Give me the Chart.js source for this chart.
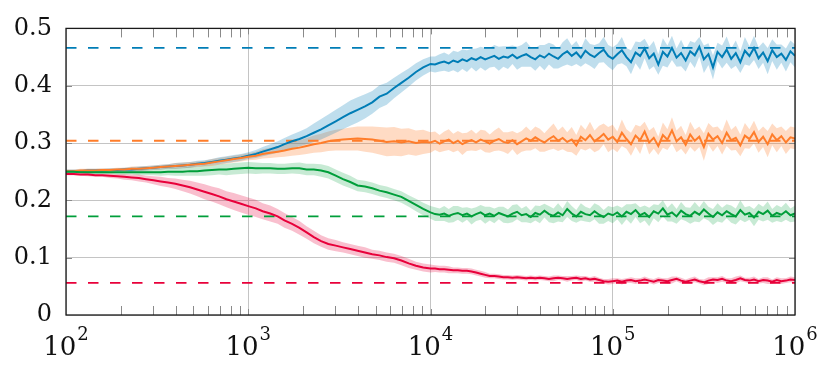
<!DOCTYPE html>
<html>
<head>
<meta charset="utf-8">
<script src="https://cdn.jsdelivr.net/npm/chart.js@4/dist/chart.umd.min.js"></script>
<style>
  html, body { margin: 0; padding: 0; background: #fff; }
  #wrap { width: 831px; height: 366px; }
</style>
</head>
<body>
<div id="wrap"><canvas id="myChart" width="831" height="366"></canvas></div>
<script>
// sample positions (iterations), log spaced
var xs = [
  100,110,120,132,145,158,174,191,209,229,251,275,302,331,363,398,437,479,525,575,631,692,759,832,912,
  1000,1100,1200,1320,1450,1580,1740,1910,2090,2290,2510,2750,3020,3310,3630,3980,4370,4790,5250,5750,6310,6920,7590,8320,9120,
  10000,10590,11220,11890,12590,13340,14130,14960,15850,16790,17780,18840,19950,21130,22390,23710,25120,26610,28180,29850,
  31620,33500,35480,37580,39810,42170,44670,47320,50120,53090,56230,59570,63100,66830,70790,74990,79430,84140,89130,94410,
  100000,105900,112200,118900,125900,133400,141300,149600,158500,167900,177800,188400,199500,211300,223900,237100,251200,266100,281800,298500,
  316200,335000,354800,375800,398100,421700,446700,473200,501200,530900,562300,595700,631000,668300,707900,749900,794300,841400,891300,944100,
  1000000
];

var blueMean = [
  0.251,0.251,0.251,0.252,0.252,0.252,0.253,0.253,0.254,0.254,0.255,0.256,0.257,0.258,0.259,0.260,0.261,0.262,0.264,0.265,0.267,0.269,0.271,0.273,0.275,
  0.278,0.281,0.285,0.289,0.293,0.298,0.303,0.307,0.312,0.318,0.324,0.331,0.338,0.345,0.352,0.358,0.364,0.371,0.381,0.386,0.396,0.405,0.414,0.424,0.432,
  0.438,0.437,0.440,0.442,0.439,0.444,0.441,0.446,0.443,0.448,0.445,0.450,0.446,0.449,0.452,0.447,0.451,0.449,0.454,0.448,
  0.452,0.455,0.450,0.446,0.453,0.449,0.456,0.451,0.447,0.455,0.460,0.452,0.458,0.449,0.461,0.454,0.450,0.457,0.463,0.452,
  0.447,0.455,0.462,0.450,0.441,0.458,0.452,0.465,0.448,0.456,0.437,0.459,0.451,0.466,0.449,0.457,0.444,0.460,0.453,0.468,
  0.446,0.455,0.432,0.459,0.450,0.463,0.447,0.457,0.441,0.461,0.452,0.466,0.448,0.458,0.443,0.462,0.450,0.456,0.445,0.460,
  0.452
];
var blueBand = [
  0.003,0.003,0.003,0.003,0.003,0.003,0.003,0.003,0.003,0.004,0.004,0.004,0.004,0.004,0.004,0.005,0.005,0.005,0.005,0.005,0.005,0.006,0.006,0.006,0.006,
  0.006,0.007,0.008,0.009,0.010,0.011,0.012,0.013,0.014,0.016,0.018,0.019,0.020,0.021,0.022,0.022,0.021,0.020,0.020,0.019,0.018,0.017,0.016,0.015,0.014,
  0.013,0.014,0.015,0.016,0.015,0.017,0.018,0.017,0.019,0.016,0.020,0.018,0.020,0.017,0.019,0.021,0.018,0.020,0.016,0.020,
  0.019,0.022,0.017,0.020,0.018,0.022,0.019,0.021,0.017,0.021,0.023,0.018,0.020,0.016,0.022,0.019,0.021,0.017,0.022,0.019,
  0.020,0.018,0.023,0.016,0.021,0.019,0.024,0.017,0.020,0.022,0.018,0.024,0.019,0.021,0.016,0.023,0.019,0.018,0.022,0.017,
  0.024,0.019,0.021,0.016,0.020,0.023,0.018,0.022,0.019,0.024,0.017,0.021,0.019,0.018,0.023,0.019,0.022,0.016,0.020,0.019,
  0.020
];

var orangeMean = [
  0.251,0.251,0.252,0.252,0.252,0.253,0.253,0.254,0.254,0.255,0.255,0.256,0.257,0.258,0.259,0.260,0.261,0.262,0.263,0.264,0.266,0.268,0.270,0.272,0.274,
  0.276,0.278,0.281,0.283,0.285,0.287,0.290,0.292,0.295,0.298,0.300,0.303,0.305,0.306,0.307,0.308,0.307,0.306,0.304,0.302,0.303,0.301,0.303,0.300,0.302,
  0.301,0.304,0.299,0.303,0.306,0.300,0.304,0.298,0.302,0.305,0.301,0.306,0.303,0.299,0.304,0.307,0.302,0.300,0.305,0.298,
  0.303,0.308,0.304,0.310,0.305,0.301,0.307,0.312,0.304,0.309,0.302,0.306,0.296,0.311,0.305,0.314,0.303,0.309,0.316,0.306,
  0.311,0.302,0.318,0.307,0.298,0.313,0.305,0.320,0.301,0.309,0.295,0.314,0.306,0.322,0.303,0.310,0.297,0.315,0.304,0.311,
  0.293,0.316,0.306,0.312,0.300,0.318,0.305,0.309,0.296,0.313,0.307,0.319,0.302,0.311,0.298,0.315,0.305,0.312,0.301,0.310,
  0.308
];
var orangeBand = [
  0.003,0.003,0.003,0.003,0.003,0.003,0.003,0.003,0.003,0.004,0.004,0.004,0.004,0.004,0.004,0.005,0.005,0.005,0.005,0.005,0.006,0.006,0.006,0.006,0.006,
  0.006,0.007,0.008,0.009,0.010,0.011,0.012,0.013,0.014,0.015,0.016,0.017,0.018,0.019,0.020,0.021,0.022,0.023,0.024,0.025,0.025,0.024,0.023,0.022,0.021,
  0.018,0.016,0.015,0.017,0.018,0.016,0.017,0.019,0.016,0.018,0.015,0.017,0.019,0.016,0.018,0.020,0.017,0.019,0.016,0.019,
  0.018,0.021,0.017,0.019,0.020,0.016,0.019,0.022,0.018,0.020,0.017,0.022,0.018,0.021,0.018,0.023,0.019,0.021,0.018,0.022,
  0.021,0.018,0.023,0.017,0.020,0.019,0.024,0.017,0.021,0.019,0.016,0.022,0.018,0.023,0.019,0.020,0.017,0.022,0.019,0.018,
  0.024,0.019,0.021,0.017,0.020,0.023,0.018,0.021,0.019,0.022,0.017,0.020,0.019,0.018,0.023,0.019,0.021,0.017,0.020,0.019,
  0.019
];

var greenMean = [
  0.250,0.250,0.249,0.249,0.249,0.249,0.249,0.249,0.249,0.249,0.249,0.249,0.249,0.249,0.250,0.250,0.250,0.251,0.251,0.252,0.253,0.254,0.254,0.255,0.256,
  0.257,0.256,0.256,0.256,0.255,0.255,0.256,0.256,0.254,0.254,0.252,0.249,0.243,0.237,0.232,0.226,0.224,0.221,0.217,0.214,0.210,0.206,0.199,0.192,0.185,
  0.179,0.176,0.175,0.177,0.173,0.176,0.178,0.174,0.177,0.172,0.176,0.179,0.174,0.177,0.173,0.178,0.175,0.172,0.177,0.180,
  0.174,0.176,0.171,0.178,0.175,0.182,0.176,0.173,0.179,0.174,0.185,0.177,0.172,0.180,0.176,0.174,0.181,0.175,0.171,0.177,
  0.174,0.179,0.172,0.180,0.176,0.183,0.174,0.178,0.171,0.181,0.177,0.186,0.175,0.179,0.172,0.182,0.176,0.173,0.180,0.175,
  0.184,0.177,0.171,0.179,0.174,0.181,0.176,0.172,0.183,0.175,0.178,0.170,0.180,0.176,0.182,0.173,0.178,0.175,0.181,0.174,
  0.177
];
var greenBand = [
  0.002,0.002,0.002,0.003,0.003,0.003,0.003,0.004,0.004,0.004,0.005,0.005,0.005,0.006,0.006,0.007,0.007,0.008,0.008,0.009,0.009,0.009,0.010,0.010,0.010,
  0.010,0.010,0.009,0.009,0.009,0.009,0.009,0.010,0.010,0.010,0.011,0.011,0.011,0.011,0.011,0.010,0.010,0.010,0.010,0.010,0.010,0.010,0.010,0.011,0.011,
  0.011,0.012,0.011,0.013,0.012,0.014,0.012,0.013,0.011,0.014,0.012,0.013,0.015,0.012,0.013,0.011,0.014,0.012,0.015,0.013,
  0.012,0.014,0.011,0.013,0.015,0.012,0.014,0.013,0.016,0.012,0.014,0.013,0.011,0.015,0.013,0.012,0.014,0.016,0.012,0.013,
  0.014,0.012,0.015,0.013,0.017,0.012,0.014,0.013,0.016,0.012,0.015,0.014,0.012,0.016,0.013,0.015,0.012,0.014,0.017,0.013,
  0.015,0.012,0.014,0.016,0.013,0.012,0.015,0.014,0.017,0.013,0.012,0.015,0.014,0.013,0.016,0.012,0.014,0.013,0.015,0.012,
  0.014
];

var redMean = [
  0.246,0.246,0.245,0.245,0.244,0.244,0.243,0.242,0.241,0.240,0.239,0.237,0.235,0.233,0.231,0.229,0.226,0.223,0.219,0.215,0.211,0.207,0.202,0.198,0.194,
  0.190,0.186,0.181,0.177,0.172,0.165,0.159,0.152,0.144,0.136,0.129,0.124,0.121,0.118,0.115,0.112,0.109,0.106,0.104,0.101,0.099,0.095,0.090,0.086,0.083,
  0.081,0.081,0.080,0.080,0.079,0.078,0.078,0.077,0.077,0.076,0.074,0.072,0.070,0.068,0.068,0.067,0.066,0.066,0.065,0.066,
  0.065,0.064,0.065,0.064,0.065,0.064,0.063,0.064,0.065,0.064,0.063,0.064,0.065,0.063,0.064,0.062,0.063,0.061,0.059,0.058,
  0.059,0.060,0.058,0.060,0.061,0.059,0.060,0.062,0.060,0.058,0.061,0.060,0.059,0.061,0.063,0.060,0.058,0.060,0.062,0.059,
  0.057,0.060,0.062,0.061,0.063,0.060,0.059,0.061,0.064,0.061,0.060,0.062,0.059,0.061,0.060,0.058,0.061,0.059,0.060,0.062,
  0.061
];
var redBand = [
  0.002,0.002,0.002,0.003,0.003,0.003,0.004,0.004,0.005,0.005,0.006,0.006,0.007,0.008,0.008,0.009,0.010,0.011,0.012,0.013,0.013,0.014,0.014,0.015,0.015,
  0.015,0.015,0.014,0.014,0.013,0.013,0.012,0.012,0.011,0.011,0.010,0.010,0.010,0.009,0.009,0.009,0.009,0.008,0.008,0.008,0.008,0.008,0.008,0.007,0.007,
  0.007,0.006,0.006,0.006,0.006,0.005,0.005,0.005,0.005,0.005,0.005,0.005,0.005,0.004,0.004,0.004,0.004,0.004,0.004,0.004,
  0.004,0.004,0.004,0.004,0.004,0.004,0.004,0.005,0.004,0.004,0.005,0.004,0.004,0.005,0.004,0.004,0.005,0.004,0.004,0.005,
  0.005,0.004,0.005,0.004,0.005,0.005,0.004,0.005,0.004,0.005,0.005,0.004,0.005,0.006,0.004,0.005,0.004,0.005,0.005,0.004,
  0.005,0.006,0.004,0.005,0.005,0.004,0.005,0.006,0.005,0.004,0.005,0.005,0.004,0.005,0.006,0.004,0.005,0.005,0.004,0.005,
  0.005
];

// reference (dashed) levels
var targets = [0.466, 0.304, 0.172, 0.056];
var xRange = [100, 1000000];
var xTickValues = [100, 1000, 10000, 100000, 1000000];
var xTickBase = '10';
var xTickExp = ['2', '3', '4', '5', '6'];
var yTickValues = [0, 0.1, 0.2, 0.3, 0.4, 0.5];

var series = [
  { mean: blueMean, band: blueBand, color: 'rgb(0,125,182)', fill: 'rgba(0,125,182,0.25)' },
  { mean: orangeMean, band: orangeBand, color: 'rgb(255,125,42)', fill: 'rgba(255,125,42,0.28)' },
  { mean: greenMean, band: greenBand, color: 'rgb(0,158,58)', fill: 'rgba(0,158,58,0.22)' },
  { mean: redMean, band: redBand, color: 'rgb(232,0,58)', fill: 'rgba(232,0,58,0.25)' }
];

function pts(arr) {
  var out = [];
  for (var i = 0; i < xs.length; i++) out.push({ x: xs[i], y: arr[i] });
  return out;
}

var datasets = [];
// bands: upper filled down to lower
series.forEach(function (s) {
  var up = [], lo = [];
  for (var i = 0; i < xs.length; i++) {
    up.push({ x: xs[i], y: s.mean[i] + s.band[i] });
    lo.push({ x: xs[i], y: s.mean[i] - s.band[i] });
  }
  datasets.push({ data: up, borderWidth: 0, pointRadius: 0, backgroundColor: s.fill, fill: '+1', order: 100 });
  datasets.push({ data: lo, borderWidth: 0, pointRadius: 0, fill: false, order: 100 });
});
// dashed levels
series.forEach(function (s, k) {
  datasets.push({
    data: [{ x: xRange[0], y: targets[k] }, { x: xRange[1], y: targets[k] }],
    borderColor: s.color, borderWidth: 1.8, borderDash: [10.5, 11.5],
    pointRadius: 0, fill: false, order: 50
  });
});
// mean lines, red on top
series.forEach(function (s, k) {
  datasets.push({
    data: pts(s.mean), borderColor: s.color, borderWidth: 2,
    pointRadius: 0, fill: false, order: 4 - k
  });
});

var serif = '"DejaVu Serif", serif';

var tickMarks = {
  id: 'tickMarks',
  afterDraw: function (chart) {
    var ctx = chart.ctx, a = chart.chartArea;
    var sx = chart.scales.x, sy = chart.scales.y;
    ctx.save();
    ctx.strokeStyle = '#8a8a8a';
    ctx.lineWidth = 1;
    ctx.beginPath();
    for (var d = 100; d < 1000000; d *= 10) {
      for (var m = 1; m <= 9; m++) {
        var v = d * m;
        if (v <= xRange[0] || v >= xRange[1]) continue;
        var px = Math.round(sx.getPixelForValue(v)) + 0.5;
        var len = m === 1 ? 6 : 9;
        ctx.moveTo(px, a.bottom); ctx.lineTo(px, a.bottom - len);
        ctx.moveTo(px, a.top); ctx.lineTo(px, a.top + len);
      }
    }
    yTickValues.forEach(function (v) {
      if (v <= 0 || v >= 0.5) return;
      var py = Math.round(sy.getPixelForValue(v)) + 0.5;
      ctx.moveTo(a.left, py); ctx.lineTo(a.left + 6, py);
      ctx.moveTo(a.right, py); ctx.lineTo(a.right - 6, py);
    });
    ctx.stroke();
    ctx.strokeStyle = '#1a1a1a';
    ctx.lineWidth = 1.3;
    ctx.strokeRect(a.left, a.top, a.right - a.left, a.bottom - a.top);

    // x tick labels: 10 with a raised exponent
    ctx.fillStyle = '#111';
    ctx.textBaseline = 'alphabetic';
    ctx.textAlign = 'left';
    xTickValues.forEach(function (v, i) {
      var px = sx.getPixelForValue(v);
      ctx.font = '26px ' + serif;
      var w1 = ctx.measureText(xTickBase).width;
      ctx.font = '18px ' + serif;
      var w2 = ctx.measureText(xTickExp[i]).width;
      var x0 = px - (w1 + 1 + w2) / 2;
      ctx.font = '26px ' + serif;
      ctx.fillText(xTickBase, x0, 354.5);
      ctx.font = '18px ' + serif;
      ctx.fillText(xTickExp[i], x0 + w1 + 1, 339.5);
    });
    ctx.restore();
  }
};

new Chart(document.getElementById('myChart').getContext('2d'), {
  type: 'line',
  data: { datasets: datasets },
  options: {
    responsive: false,
    animation: false,
    layout: { padding: { left: 0, right: 36, top: 22, bottom: 0 } },
    elements: { line: { tension: 0 } },
    plugins: { legend: { display: false }, tooltip: { enabled: false } },
    scales: {
      x: {
        type: 'logarithmic', min: xRange[0], max: xRange[1],
        afterBuildTicks: function (s) { s.ticks = xTickValues.map(function (v) { return { value: v }; }); },
        afterFit: function (s) { s.height = 51; },
        ticks: { display: false, autoSkip: false, maxRotation: 0 },
        grid: { color: '#c4c4c4', lineWidth: 1, drawTicks: false },
        border: { display: false }
      },
      y: {
        type: 'linear', min: 0, max: 0.5,
        afterBuildTicks: function (s) { s.ticks = yTickValues.map(function (v) { return { value: v }; }); },
        afterFit: function (s) { s.width = 66; },
        ticks: {
          padding: 14, color: '#111', font: { family: serif, size: 24 },
          callback: function (v) { return v === 0 ? '0' : v.toFixed(1); }
        },
        grid: { color: '#c4c4c4', lineWidth: 1, drawTicks: false },
        border: { display: false }
      }
    }
  },
  plugins: [tickMarks]
});
</script>
</body>
</html>
